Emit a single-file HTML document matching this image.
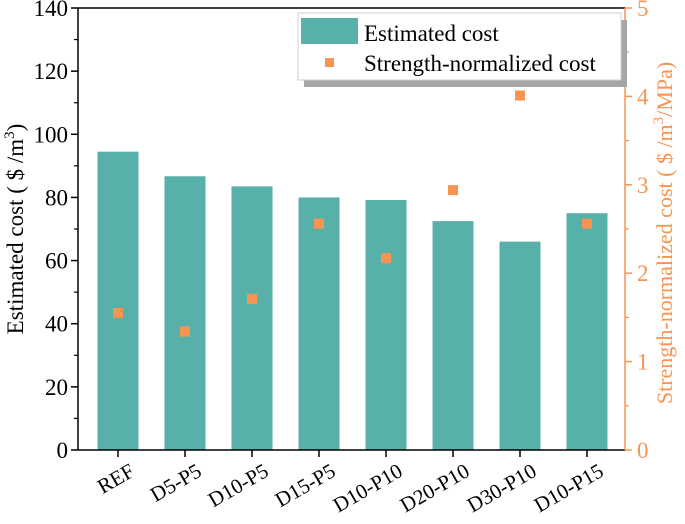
<!DOCTYPE html>
<html><head><meta charset="utf-8"><style>
body{margin:0;background:#fff}
svg,text{font-family:"Liberation Serif","Times New Roman",serif !important}
</style></head><body>
<svg id="c" width="685" height="519" xmlns="http://www.w3.org/2000/svg" font-family="Liberation Serif, serif"></svg>
<script>
const categories=["REF","D5-P5","D10-P5","D15-P5","D10-P10","D20-P10","D30-P10","D10-P15"];
const costValues=[94.5,86.7,83.5,80,79.2,72.5,66,75];
const normValues=[1.55,1.34,1.71,2.56,2.17,2.94,4.01,2.56];
const leftTicks=[0,20,40,60,80,100,120,140];
const rightTicks=[0,1,2,3,4,5];
const NS="http://www.w3.org/2000/svg";
const svg=document.getElementById('c');
const X0=78,X1=625,Y0=450,Y1=8;
const F='Liberation Serif, serif';
const yL=v=>Y0-(v/140)*(Y0-Y1);
const yR=v=>Y0-(v/5)*(Y0-Y1);
const xC=i=>118+i*67;
function mk(t,a,p){const e=document.createElementNS(NS,t);for(const k in a)e.setAttribute(k,a[k]);if(t==='text')e.setAttribute('font-family',F);(p||svg).appendChild(e);return e;}
categories.forEach((c,i)=>{
 const b=mk('rect',{x:xC(i)-20.5,y:yL(costValues[i]),width:41,height:Y0-yL(costValues[i]),fill:'#58b1a9'});
 
 
});
mk('line',{x1:X0,y1:Y1,x2:X1,y2:Y1,stroke:'#000','stroke-width':1.5});
mk('line',{x1:X0,y1:Y0,x2:X1,y2:Y0,stroke:'#000','stroke-width':1.5});
const la=mk('line',{x1:X0,y1:Y1,x2:X0,y2:Y0,stroke:'#000','stroke-width':1.5});

const ra=mk('line',{x1:X1,y1:Y1,x2:X1,y2:Y0,stroke:'#f79452','stroke-width':1.5});

leftTicks.forEach(v=>{
 mk('line',{x1:X0-7,y1:yL(v),x2:X0,y2:yL(v),stroke:'#000','stroke-width':1.5});
 if(v<140)mk('line',{x1:X0-4,y1:yL(v+10),x2:X0,y2:yL(v+10),stroke:'#000','stroke-width':1.2});
 const t=mk('text',{x:X0-10,y:yL(v)+8,'text-anchor':'end','font-size':23});t.textContent=v;
 
});
rightTicks.forEach(v=>{
 mk('line',{x1:X1,y1:yR(v),x2:X1+7,y2:yR(v),stroke:'#f79452','stroke-width':1.5});
 if(v<5)mk('line',{x1:X1,y1:yR(v+0.5),x2:X1+4,y2:yR(v+0.5),stroke:'#f79452','stroke-width':1.2});
 const t=mk('text',{x:X1+12,y:yR(v)+8,'font-size':23,fill:'#f79452'});t.textContent=v;
 
});
categories.forEach((c,i)=>{
 mk('line',{x1:xC(i),y1:Y0,x2:xC(i),y2:Y0+7,stroke:'#000','stroke-width':1.5});
 const t=mk('text',{x:xC(i)+18,y:Y0+25,'text-anchor':'end','font-size':21,transform:`rotate(-30 ${xC(i)+18} ${Y0+25})`});t.textContent=c;
 
});
categories.forEach((c,i)=>{
 const s=mk('rect',{x:xC(i)-5,y:yR(normValues[i])-5,width:10,height:10,fill:'#f79452'});
 
 
});
const yt=mk('text',{x:0,y:0,'text-anchor':'middle','font-size':23,transform:'translate(23 229) rotate(-90)'});
yt.innerHTML='Estimated cost ( $ /m<tspan dy="-9" font-size="15">3</tspan><tspan dy="9">)</tspan>';

const rt=mk('text',{x:0,y:0,'text-anchor':'middle','font-size':22,fill:'#f79452',transform:'translate(672 233) rotate(-90)'});
rt.innerHTML='Strength-normalized cost ( $ /m<tspan dy="-9" font-size="15">3</tspan><tspan dy="9">/MPa)</tspan>';

const lg=mk('g',{});

mk('rect',{x:304,y:20,width:323,height:67,fill:'#a6a6a6'},lg);
mk('rect',{x:298,y:13,width:323,height:67,fill:'#fff',stroke:'#cfcfcf','stroke-width':1},lg);
mk('rect',{x:301,y:18,width:57,height:26,fill:'#58b1a9'},lg);
mk('rect',{x:325,y:58,width:9,height:9,fill:'#f79452'},lg);
const l1=mk('text',{x:364,y:41,'font-size':23},lg);l1.textContent='Estimated cost';

const l2=mk('text',{x:364,y:71,'font-size':23},lg);l2.textContent='Strength-normalized cost';

</script>
</body></html>
